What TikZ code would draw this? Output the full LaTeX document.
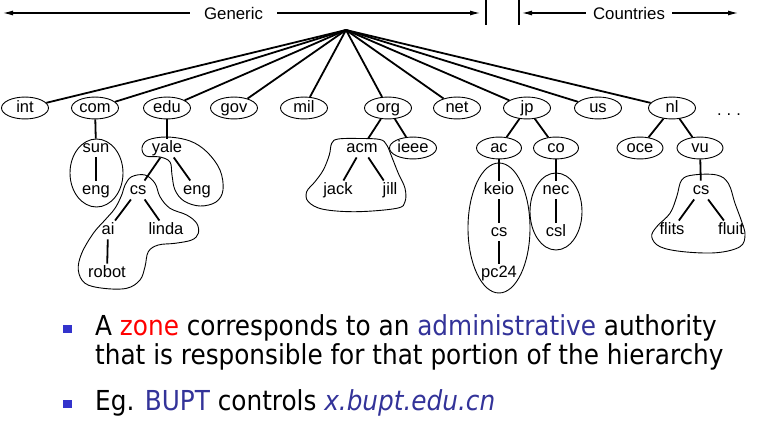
\documentclass[tikz,border=0pt]{standalone}
\usepackage{fontspec}
\usepackage{xcolor}
\usepackage{tikz}
\usetikzlibrary{shapes.geometric,arrows.meta}
\setmainfont{Liberation Sans}
\newfontfamily\slidefont{DejaVu Sans Condensed}
\definecolor{zonered}{RGB}{255,0,0}
\definecolor{adminblue}{RGB}{51,51,153}
\definecolor{bulletblue}{RGB}{51,51,204}

\begin{document}
\begin{tikzpicture}[x=1pt, y=-1pt,
  lbl/.style={font=\fontsize{16.5}{17}\selectfont, text height=12pt, text depth=3.5pt},
  dom/.style={lbl, draw, ellipse, line width=0.9pt, minimum width=47pt, minimum height=20pt, inner sep=0pt},
  subdom/.style={dom, minimum width=45pt, minimum height=19pt},
  host/.style={lbl, inner sep=1.5pt},
  link/.style={line width=1.8pt},
  zone/.style={line width=0.9pt},
  span/.style={line width=1.1pt, -{Latex[length=10pt,width=5pt]}},
  head/.style={font=\fontsize{16.8}{17}\selectfont, inner ysep=0pt},
  slide/.style={font=\slidefont\fontsize{27.5}{33}\selectfont, anchor=base west, inner sep=0pt},
  bulletsq/.style={fill=bulletblue, minimum width=8.5pt, minimum height=8pt, inner sep=0pt}
]
\useasboundingbox (0,0) rectangle (773,430);

% generic / countries
\node[head, inner xsep=14pt] (generic) at (233.5,13) {Generic};
\node[head, inner xsep=7pt] (countries) at (629,13) {Countries};
\coordinate (genL) at (3,13);
\coordinate (genR) at (480,13);
\coordinate (cntL) at (522,13);
\coordinate (cntR) at (738,13);
\draw[span] (generic) -- (genL);
\draw[span] (generic) -- (genR);
\draw[span] (countries) -- (cntL);
\draw[span] (countries) -- (cntR);
\draw[line width=1.1pt] (486,0) -- (486,25);
\draw[line width=1.1pt] (519,0) -- (519,25);

% top level
\coordinate (root) at (346,30);
\foreach \n/\x in {int/25, com/95, edu/167, gov/234, mil/304, org/388, net/457, jp/527, us/598, nl/672} {
  \node[dom] (\n) at (\x,108) {\n};
  \draw[link] (root) -- (\n);
}
\node[lbl] (dots) at (729,111) {.\hspace{5pt}.\hspace{5pt}.};

% second level
\node[host] (sun) at (96,148) {sun};
\node[host] (sunEng) at (96,190) {eng};
\node[host] (yale) at (167,148) {yale};
\node[host] (yaleEng) at (197,190) {eng};
\node[host] (yaleCs) at (138,190) {cs};
\node[host] (ai) at (108,230) {ai};
\node[host] (linda) at (166,230) {linda};
\node[host] (robot) at (107,273) {robot};
\node[host] (acm) at (362,148) {acm};
\node[dom] (ieee) at (413,148) {ieee};
\node[host] (jack) at (338,190) {jack};
\node[host] (jill) at (390,190) {jill};
\node[subdom] (ac) at (499,148) {ac};
\node[subdom] (co) at (556,148) {co};
\node[host] (keio) at (499,190) {keio};
\node[host] (keioCs) at (499,232) {cs};
\node[host] (pc24) at (499,273) {pc24};
\node[host] (nec) at (556,190) {nec};
\node[host] (csl) at (556,232) {csl};
\node[subdom, minimum width=46pt] (oce) at (640,148) {oce};
\node[subdom, minimum width=46pt] (vu) at (700,148) {vu};
\node[host] (vuCs) at (701,190) {cs};
\node[host] (flits) at (672,230) {flits};
\node[host] (fluit) at (731,230) {fluit};

\foreach \a/\b in {com/sun, sun/sunEng, edu/yale, yale/yaleCs, yale/yaleEng, yaleCs/ai, yaleCs/linda, ai/robot,
  org/acm, org/ieee, acm/jack, acm/jill, jp/ac, jp/co, ac/keio, keio/keioCs, keioCs/pc24, co/nec, nec/csl,
  nl/oce, nl/vu, vu/vuCs, vuCs/flits, vuCs/fluit}
  \draw[link] (\a) -- (\b);

% zones
\draw[zone] (96.5,173) ellipse [x radius=26.5pt, y radius=34pt];
\draw[zone] (499,228) ellipse [x radius=31pt, y radius=65pt];
\draw[zone] (556,211.5) ellipse [x radius=26pt, y radius=38.5pt];
\draw[zone] plot[smooth cycle, tension=0.6] coordinates {(142,148) (146,156) (160,157) (170,162) (172,175) (175,190)
  (184,201) (200,206) (216,202) (223,190) (220,170) (207,152) (190,141) (167,137) (148,140)};
\draw[zone] plot[smooth cycle, tension=0.6] coordinates {(131.7,176.7) (145,175) (155,183.3) (160,196.7) (170,208.3)
  (186.7,215) (196.7,223.3) (198.3,233.3) (191.7,240) (175,243.3) (158.3,245) (148.3,251.7) (145,266.7) (140,280)
  (126.7,288.3) (103.3,288.3) (85,283.3) (78.3,270) (81.7,253.3) (93.3,233.3) (105,220) (115,208.3) (121.7,195) (125,185)};
\draw[zone] plot[smooth cycle, tension=0.6] coordinates {(331.7,143.3) (338.3,139) (360,138.5) (380,139.5) (386.7,145)
  (391.7,156.7) (398.3,173.3) (405,188.3) (405,201.7) (396.7,208.3) (356.7,211.7) (323.3,209.3) (308.3,201.7)
  (306.7,191.7) (315,181.7) (323.3,170) (329.3,155)};
\draw[zone] plot[smooth cycle, tension=0.6] coordinates {(681.7,180) (693.3,175) (716.7,175) (728.3,183.3) (735,203.3)
  (741.7,221.7) (745,235) (740,246.7) (716.7,252.7) (683.3,251.7) (660,246.7) (651.7,236.7) (656.7,226.7)
  (670,213.3) (676.7,196.7)};

% bullets
\node[bulletsq] (sq1) at (67.5,329) {};
\node[bulletsq] (sq2) at (67.5,404) {};
\node[slide] (line1) at (95,335) {A \textcolor{zonered}{zone} corresponds to an \textcolor{adminblue}{administrative} authority};
\node[slide] (line2) at (95,364) {that is responsible for that portion of the hierarchy};
\node[slide] (line3) at (95,410) {Eg. \textcolor{adminblue}{BUPT} controls \textcolor{adminblue}{\itshape x.bupt.edu.cn}};
\end{tikzpicture}
\end{document}
